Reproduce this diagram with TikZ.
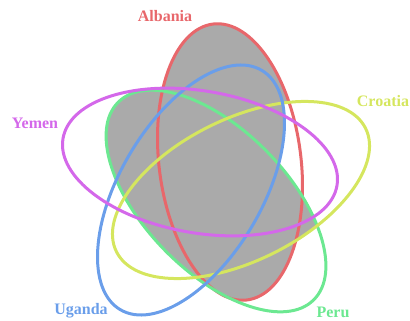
\documentclass[tikz,border=0pt]{standalone}
\usepackage{fontspec}
\setmainfont{Liberation Serif}
\usepackage{tikz}

\definecolor{albred}{HTML}{E8676B}
\definecolor{yempurple}{HTML}{D468EA}
\definecolor{croyellow}{HTML}{D5E65E}
\definecolor{perugreen}{HTML}{6CE891}
\definecolor{ugablue}{HTML}{6A9EEA}
\definecolor{fillgrey}{HTML}{AAAAAA}

\begin{document}
\begin{tikzpicture}[x=1pt, y=-1pt,
    ring/.style={line width=3pt},
    setlabel/.style={font=\bfseries\fontsize{16}{16}\selectfont, inner sep=1pt}]
            \useasboundingbox (0,0) rectangle (410,321);

            \coordinate (AL) at (230,162);
            \coordinate (YE) at (200,162);
            \coordinate (CR) at (241,190);
            \coordinate (PE) at (216,201);
            \coordinate (UG) at (191,190);

            \fill[fillgrey] (AL) circle [x radius=139, y radius=71, rotate=97];
            \begin{scope}[even odd rule]
                \clip (AL) circle [x radius=139, y radius=71, rotate=97];
                \clip (CR) circle [x radius=139, y radius=71, rotate=26.3];
                \clip (-100,-100) rectangle (510,421)
                    (UG) circle [x radius=139, y radius=71, rotate=59.4];
                \fill[white] (-100,-100) rectangle (510,421);
            \end{scope}
            \begin{scope}
                \clip (PE) circle [x radius=139, y radius=71, rotate=-45.4];
                \clip (YE) circle [x radius=139, y radius=71, rotate=-9.8];
                \fill[fillgrey] (0,0) rectangle (410,321);
            \end{scope}
            \begin{scope}
                \clip (PE) circle [x radius=139, y radius=71, rotate=-45.4];
                \clip (CR) circle [x radius=139, y radius=71, rotate=26.3];
                \fill[fillgrey] (0,0) rectangle (410,321);
            \end{scope}

            \draw[ring, albred] (AL) circle [x radius=139, y radius=71, rotate=97];
            \draw[ring, perugreen] (PE) circle [x radius=139, y radius=71, rotate=-45.4];
            \draw[ring, croyellow] (CR) circle [x radius=139, y radius=71, rotate=26.3];
            \draw[ring, ugablue] (UG) circle [x radius=139, y radius=71, rotate=59.4];
            \draw[ring, yempurple] (YE) circle [x radius=139, y radius=71, rotate=-9.8];

            \node[setlabel, albred] (albania) at (165,16) {Albania};
            \node[setlabel, yempurple] (yemen) at (35,123) {Yemen};
            \node[setlabel, croyellow] (croatia) at (383,101) {Croatia};
            \node[setlabel, ugablue] (uganda) at (81,311) {Uganda};
            \node[setlabel, perugreen] (peru) at (333,312) {Peru};
        \end{tikzpicture}
\end{document}
